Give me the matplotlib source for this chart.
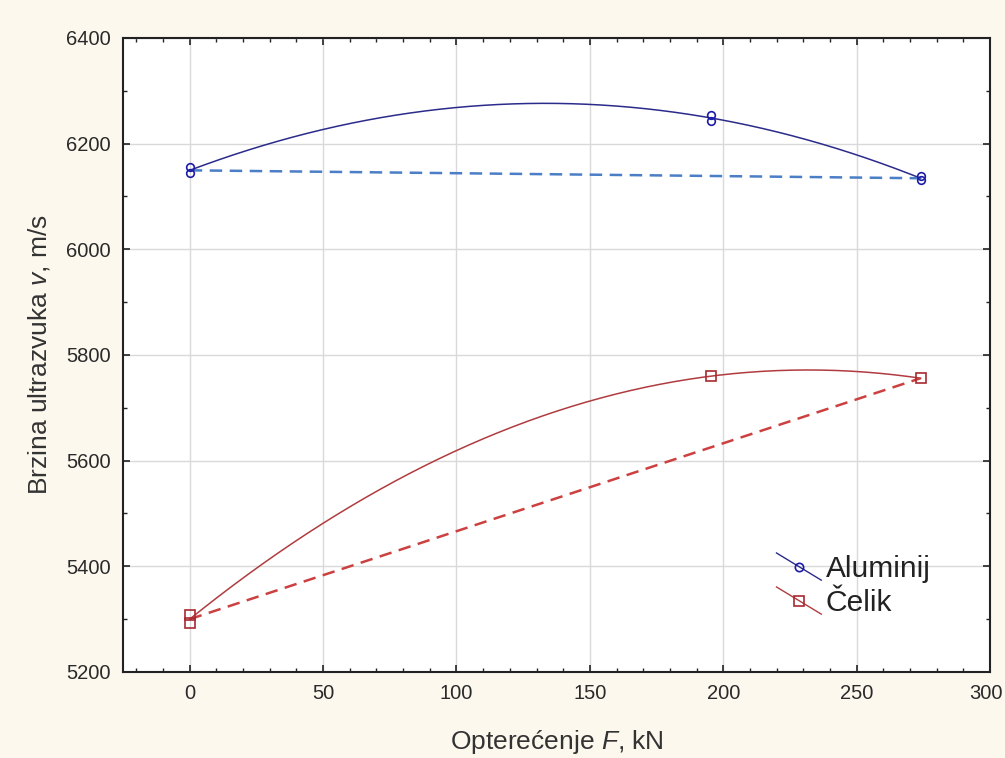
import numpy as np
import matplotlib
matplotlib.use('Agg')
import matplotlib.pyplot as plt
import matplotlib.transforms as mtransforms
from matplotlib.lines import Line2D
from matplotlib.legend_handler import HandlerLine2D
from matplotlib.ticker import MultipleLocator

plt.rcParams['font.family'] = ['Liberation Sans', 'DejaVu Sans']
plt.rcParams['mathtext.fontset'] = 'custom'
plt.rcParams['mathtext.it'] = 'Liberation Sans:italic'
plt.rcParams['mathtext.rm'] = 'Liberation Sans'

# load [kN] and ultrasound velocity [m/s]
load_al = [0.0, 0.0, 195.5, 195.5, 274.0, 274.0]
vel_al = [6155, 6144, 6254, 6243, 6138, 6131]
load_st = [0.0, 0.0, 195.5, 274.0]
vel_st = [5307, 5293, 5760, 5756]

series_names = ['Aluminij', 'Čelik']
xticks = [0, 50, 100, 150, 200, 250, 300]
yticks = [5200, 5400, 5600, 5800, 6000, 6200, 6400]

c_al, c_al_fit, c_al_dash = '#1c1ca8', '#2b2b8c', '#4a7ec6'
c_st, c_st_fit, c_st_dash = '#a82a30', '#b03c40', '#cc4040'


class DiagHandler(HandlerLine2D):
    # legend key drawn as a falling diagonal line with the marker in the middle
    def create_artists(self, legend, orig_handle, xdescent, ydescent,
                       width, height, fontsize, trans):
        x0, x1 = -xdescent, -xdescent + width
        y0, y1 = -ydescent + height * 1.15, -ydescent - height * 0.15
        ln = Line2D([x0, x1], [y0, y1], color=orig_handle.get_color(), lw=1.0)
        mk = Line2D([(x0 + x1) / 2], [(y0 + y1) / 2],
                    marker=orig_handle.get_marker(), markersize=orig_handle.get_markersize(),
                    markerfacecolor='none', markeredgecolor=orig_handle.get_markeredgecolor(),
                    markeredgewidth=1.2, linestyle='none')
        ln.set_transform(trans)
        mk.set_transform(trans)
        return [ln, mk]


fig = plt.figure(figsize=(10.05, 7.58), dpi=100, facecolor='#fcf8ee')
ax = fig.add_axes([0.1224, 0.1135, 0.8627, 0.8364])
ax.set_facecolor('white')

for x, y, cm, cf, cd, mk, ms in [(load_al, vel_al, c_al, c_al_fit, c_al_dash, 'o', 5.5),
                                  (load_st, vel_st, c_st, c_st_fit, c_st_dash, 's', 7)]:
    x = np.array(x)
    y = np.array(y)
    # quadratic fit (solid)
    p = np.polyfit(x, y, 2)
    xx = np.linspace(x.min(), x.max(), 200)
    ax.plot(xx, np.polyval(p, xx), color=cf, lw=1.1, zorder=3)
    # dashed line between first and last load level
    xa, xb = x.min(), x.max()
    ax.plot([xa, xb], [y[x == xa].mean(), y[x == xb].mean()], color=cd, lw=1.8,
            dashes=(5, 3), zorder=3)
    ax.plot(x, y, linestyle='none', marker=mk, markersize=ms, markerfacecolor='none',
            markeredgecolor=cm, markeredgewidth=1.2, zorder=4)

ax.set_xlim(-25, 300)
ax.set_ylim(5200, 6400)
ax.set_xticks(xticks)
ax.set_yticks(yticks)
ax.xaxis.set_minor_locator(MultipleLocator(10))
ax.yaxis.set_minor_locator(MultipleLocator(100))
ax.grid(True, which='major', color='#d9d9d9', lw=1.0, zorder=0)
ax.set_axisbelow(True)
ax.tick_params(which='both', direction='in', top=True, right=True, colors='#222222',
               labelsize=14.5, labelcolor='#2a2a2a')
ax.tick_params(which='major', length=5, width=1.2)
ax.tick_params(which='minor', length=3, width=1.0)
ax.tick_params(axis='y', pad=9)
ax.tick_params(axis='x', pad=9)
for s in ax.spines.values():
    s.set_color('#222222')
    s.set_linewidth(1.5)

# nudge the last x tick label so it stays inside the figure
last = ax.get_xticklabels()[-1]
last.set_transform(last.get_transform() +
                   mtransforms.ScaledTranslation(-4 / 100, 0, fig.dpi_scale_trans))

ax.set_xlabel(r'Opterećenje $F$, kN', fontsize=19, color='#333333', labelpad=18)
ax.set_ylabel(r'Brzina ultrazvuka $v$, m/s', fontsize=19, color='#333333', labelpad=10)

h_al = Line2D([], [], color=c_al_fit, marker='o', markersize=6, markeredgecolor=c_al)
h_st = Line2D([], [], color=c_st_fit, marker='s', markersize=7, markeredgecolor=c_st)
ax.legend([h_al, h_st], series_names, handler_map={Line2D: DiagHandler()},
          loc='upper left', bbox_to_anchor=(0.7365, 0.208), frameon=False,
          fontsize=21.5, borderpad=0, handlelength=1.5, handletextpad=0.15,
          labelspacing=0.2, labelcolor='#222222')

fig.savefig('out.png', dpi=100, facecolor=fig.get_facecolor())
